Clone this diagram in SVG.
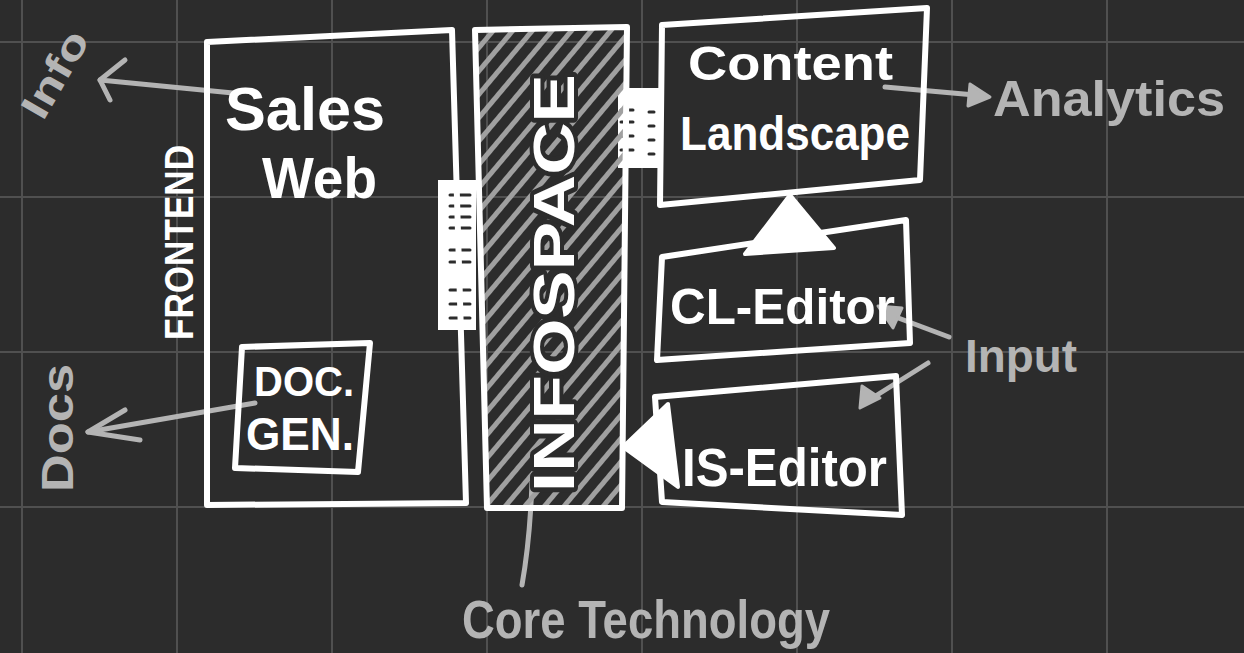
<svg xmlns="http://www.w3.org/2000/svg" width="1244" height="653" viewBox="0 0 1244 653">
  <style>
    .box { fill: none; stroke: #ffffff; stroke-width: 6; stroke-linejoin: round; stroke-linecap: round; }
    .lbl { fill: #ffffff; font-family: "Liberation Sans", "DejaVu Sans", sans-serif; font-weight: bold; }
    .note { fill: #b4b4b4; font-family: "Liberation Sans", "DejaVu Sans", sans-serif; font-weight: bold; }
    .grey { fill: none; stroke: #b4b4b4; stroke-width: 5; stroke-linecap: round; stroke-linejoin: round; }
    .grid { stroke: #505050; stroke-width: 2; }
    .rung { stroke: #2c2c2c; stroke-width: 3; stroke-linecap: round; }
  </style>
  <defs>
    <pattern id="hatch" width="15" height="15" patternUnits="userSpaceOnUse" patternTransform="rotate(-50)">
      <line x1="-1" y1="7.5" x2="16" y2="7.5" stroke="#a0a0a0" stroke-width="5"/>
    </pattern>
  </defs>

  <!-- board -->
  <rect width="1244" height="653" fill="#2c2c2c"/>
  <g id="grid">
    <line class="grid" x1="22" y1="0" x2="22" y2="653"/>
    <line class="grid" x1="177" y1="0" x2="177" y2="653"/>
    <line class="grid" x1="332" y1="0" x2="332" y2="653"/>
    <line class="grid" x1="487" y1="0" x2="487" y2="653"/>
    <line class="grid" x1="642" y1="0" x2="642" y2="653"/>
    <line class="grid" x1="797" y1="0" x2="797" y2="653"/>
    <line class="grid" x1="952" y1="0" x2="952" y2="653"/>
    <line class="grid" x1="1107" y1="0" x2="1107" y2="653"/>
    <line class="grid" x1="0" y1="42" x2="1244" y2="42"/>
    <line class="grid" x1="0" y1="197" x2="1244" y2="197"/>
    <line class="grid" x1="0" y1="352" x2="1244" y2="352"/>
    <line class="grid" x1="0" y1="507" x2="1244" y2="507"/>
  </g>

  <!-- links -->
  <g id="connectors">
    <!-- Sales Web -> Info -->
    <path class="grey" d="M233,93 L100,80"/>
    <path class="grey" d="M125,60 L100,80 L110,100"/>
    <!-- Doc Gen -> Docs -->
    <path class="grey" d="M255,403 L88,432"/>
    <path class="grey" d="M125,410 L88,432 L140,440"/>
    <!-- Content Landscape -> Analytics -->
    <path class="grey" d="M885,87 L975,95"/>
    <path d="M970,84 L990,97 L968,106 Z" fill="#b4b4b4" stroke="#b4b4b4" stroke-width="3" stroke-linejoin="round"/>
    <!-- Input arrows -->
    <path class="grey" d="M949,337 L885,313"/>
    <path d="M878,306 L902,308 L893,328 Z" fill="#b4b4b4" stroke="#b4b4b4" stroke-width="3" stroke-linejoin="round"/>
    <path class="grey" d="M928,363 L866,402"/>
    <path d="M860,408 L862,386 L880,398 Z" fill="#b4b4b4" stroke="#b4b4b4" stroke-width="3" stroke-linejoin="round"/>
    <!-- Infospace -> Core Technology -->
    <path class="grey" d="M532,482 Q530,540 522,585"/>
    <!-- Sales Web <-> Infospace interface -->
    <rect x="438" y="180" width="38" height="150" fill="#ffffff"/>
    <g class="rung">
      <line x1="450" y1="195" x2="470" y2="195"/>
      <line x1="450" y1="206" x2="470" y2="206"/>
      <line x1="450" y1="217" x2="470" y2="217"/>
      <line x1="450" y1="228" x2="470" y2="228"/>
      <line x1="450" y1="250" x2="470" y2="250"/>
      <line x1="450" y1="262" x2="470" y2="262"/>
      <line x1="450" y1="290" x2="470" y2="290"/>
      <line x1="450" y1="304" x2="470" y2="304"/>
      <line x1="450" y1="318" x2="470" y2="318"/>
    </g>
    <!-- Infospace <-> Content Landscape interface -->
    <rect x="618" y="88" width="44" height="80" fill="#ffffff"/>
    <g class="rung">
      <line x1="621" y1="110" x2="633" y2="110"/>
      <line x1="621" y1="122" x2="633" y2="122"/>
      <line x1="621" y1="136" x2="633" y2="136"/>
      <line x1="621" y1="150" x2="633" y2="150"/>
      <line x1="649" y1="112" x2="654" y2="112"/>
      <line x1="649" y1="126" x2="654" y2="126"/>
      <line x1="649" y1="140" x2="654" y2="140"/>
      <line x1="649" y1="154" x2="654" y2="154"/>
    </g>
    <!-- CL-Editor -> Content Landscape -->
    <path d="M790,195 L834,248 L745,254 Z" fill="#ffffff" stroke="#ffffff" stroke-width="4" stroke-linejoin="round"/>
    <!-- IS-Editor -> Infospace -->
    <path d="M623,447 L668,404 L678,487 Z" fill="#ffffff" stroke="#ffffff" stroke-width="4" stroke-linejoin="round"/>
  </g>

  <!-- Sales Web (frontend) -->
  <g id="sales-web">
    <path class="box" d="M207,42 L452,30 L466,503 L207,505 Z"/>
    <text class="lbl" x="225" y="130" font-size="62" textLength="160" lengthAdjust="spacingAndGlyphs">Sales</text>
    <text class="lbl" x="262" y="198" font-size="58" textLength="115" lengthAdjust="spacingAndGlyphs">Web</text>
    <text class="lbl" transform="translate(193,340) rotate(-90)" font-size="40" textLength="195" lengthAdjust="spacingAndGlyphs">FRONTEND</text>
  </g>

  <!-- Doc generator -->
  <g id="doc-gen">
    <path class="box" d="M242,347 L370,343 L358,472 L235,468 Z"/>
    <text class="lbl" x="254" y="396" font-size="42" textLength="100" lengthAdjust="spacingAndGlyphs">DOC.</text>
    <text class="lbl" x="246" y="450" font-size="46" textLength="108" lengthAdjust="spacingAndGlyphs">GEN.</text>
  </g>

  <!-- Infospace core -->
  <g id="infospace">
    <path d="M475,30 L627,27 L622,508 L487,508 Z" fill="url(#hatch)"/>
    <path class="box" d="M475,30 L627,27 L622,508 L487,508 Z"/>
    <text class="lbl" transform="translate(574,492) rotate(-90)" font-size="58" textLength="418" lengthAdjust="spacingAndGlyphs" stroke="#2c2c2c" stroke-width="8" paint-order="stroke" stroke-linejoin="round">INFOSPACE</text>
  </g>

  <!-- Content Landscape -->
  <g id="content-landscape">
    <path class="box" d="M662,25 L927,8 L920,180 L660,205 Z"/>
    <text class="lbl" x="688" y="80" font-size="48" textLength="205" lengthAdjust="spacingAndGlyphs">Content</text>
    <text class="lbl" x="680" y="150" font-size="48" textLength="230" lengthAdjust="spacingAndGlyphs">Landscape</text>
  </g>

  <!-- CL-Editor -->
  <g id="cl-editor">
    <path class="box" d="M662,257 L906,220 L910,343 L657,360 Z"/>
    <text class="lbl" x="670" y="324" font-size="50" textLength="225" lengthAdjust="spacingAndGlyphs">CL-Editor</text>
  </g>

  <!-- IS-Editor -->
  <g id="is-editor">
    <path class="box" d="M655,397 L896,376 L902,515 L662,502 Z"/>
    <text class="lbl" x="682" y="486" font-size="54" textLength="205" lengthAdjust="spacingAndGlyphs">IS-Editor</text>
  </g>

  <!-- side notes -->
  <g id="notes">
    <text class="note" transform="translate(43,122) rotate(-60)" font-size="40" textLength="95" lengthAdjust="spacingAndGlyphs">Info</text>
    <text class="note" transform="translate(73,492) rotate(-90)" font-size="44" textLength="128" lengthAdjust="spacingAndGlyphs">Docs</text>
    <text class="note" x="993" y="116" font-size="50" textLength="232" lengthAdjust="spacingAndGlyphs">Analytics</text>
    <text class="note" x="965" y="372" font-size="46" textLength="112" lengthAdjust="spacingAndGlyphs">Input</text>
    <text class="note" x="462" y="638" font-size="54" textLength="368" lengthAdjust="spacingAndGlyphs">Core Technology</text>
  </g>
</svg>
